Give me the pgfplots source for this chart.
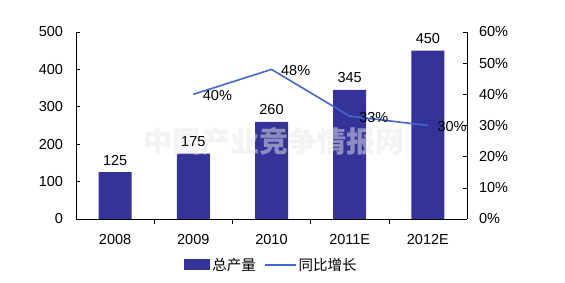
\documentclass[border=0pt]{standalone}
\usepackage{pgfplots}
\pgfplotsset{compat=1.18}
\usepackage{fontspec}
\setmainfont{Liberation Sans}
\newfontfamily\cjk{Noto Sans CJK SC}
\definecolor{barblue}{HTML}{333399}
\definecolor{lineblue}{HTML}{4466D4}
\begin{document}
\begin{tikzpicture}
\fontsize{14.5}{17}\selectfont
\begin{axis}[
  scale only axis, width=391pt, height=187pt,
  at={(0,0)}, anchor=south west,
  xmin=-0.5, xmax=4.5, ymin=0, ymax=500,
  axis x line*=bottom, axis y line*=left,
  axis line style={black, line width=0.6pt, -},
  xtick={0,1,2,3,4},
  xticklabels={2008,2009,2010,2011E,2012E},
  major x tick style={draw=none},
  minor xtick={0.5,1.5,2.5,3.5},
  minor x tick style={black, line width=0.6pt},
  minor tick length=5pt,
  ytick={0,100,200,300,400,500},
  tick align=inside,
  major tick length=4pt,
  y tick style={black, line width=0.6pt},
  tick label style={font=\fontsize{14.5}{17}\selectfont},
  /pgf/number format/assume math mode=true,
  xticklabel style={yshift=-6pt},
  yticklabel style={xshift=-8pt},
  ybar, bar width=33pt,
  nodes near coords,
  nodes near coords style={font=\fontsize{14.5}{17}\selectfont, yshift=2pt},
  legend style={at={(0.5,-0.246)}, anchor=center, draw=none, fill=none,
    legend columns=2, font=\cjk\fontsize{14.5}{16}\selectfont,
    /tikz/every even column/.append style={column sep=6pt}},
  legend cell align=left,
]
\addplot[fill=barblue, draw=none,
  legend image code/.code={\fill[barblue] (0pt,-5.5pt) rectangle (26pt,5.5pt);}]
  coordinates {(0,125) (1,175) (2,260) (3,345) (4,450)};
\addlegendentry{总产量}
\addlegendimage{lineblue, line width=1.6pt,
  legend image code/.code={\draw[lineblue, line width=1.6pt] (0pt,0pt) -- (31pt,0pt);}}
\addlegendentry{同比增长}
\node[text=gray!18, opacity=0.5, font=\cjk\bfseries\fontsize{29}{30}\selectfont] at (axis cs:2.03,206) {中国产业竞争情报网};
\end{axis}
\begin{axis}[
  scale only axis, width=391pt, height=187pt,
  at={(0,0)}, anchor=south west,
  xmin=-0.5, xmax=4.5, ymin=0, ymax=0.6,
  axis x line=none, axis y line*=right,
  axis line style={black, line width=0.6pt, -},
  ytick={0,0.1,0.2,0.3,0.4,0.5,0.6},
  yticklabels={0\%,10\%,20\%,30\%,40\%,50\%,60\%},
  tick align=inside, major tick length=4pt,
  y tick style={black, line width=0.6pt},
  tick label style={font=\fontsize{14.5}{17}\selectfont},
  yticklabel style={xshift=7pt},
]
\addplot[lineblue, line width=1.6pt, mark=none,
  point meta=explicit symbolic,
  nodes near coords,
  nodes near coords style={font=\fontsize{14.5}{17}\selectfont, anchor=west, xshift=4pt, yshift=-1pt, text=black}]
  coordinates {(1,0.40) [40\%] (2,0.48) [48\%] (3,0.33) [33\%] (4,0.30) [30\%]};
\end{axis}
\useasboundingbox (-76pt,-64pt) rectangle (489pt,219pt);
\end{tikzpicture}
\end{document}
